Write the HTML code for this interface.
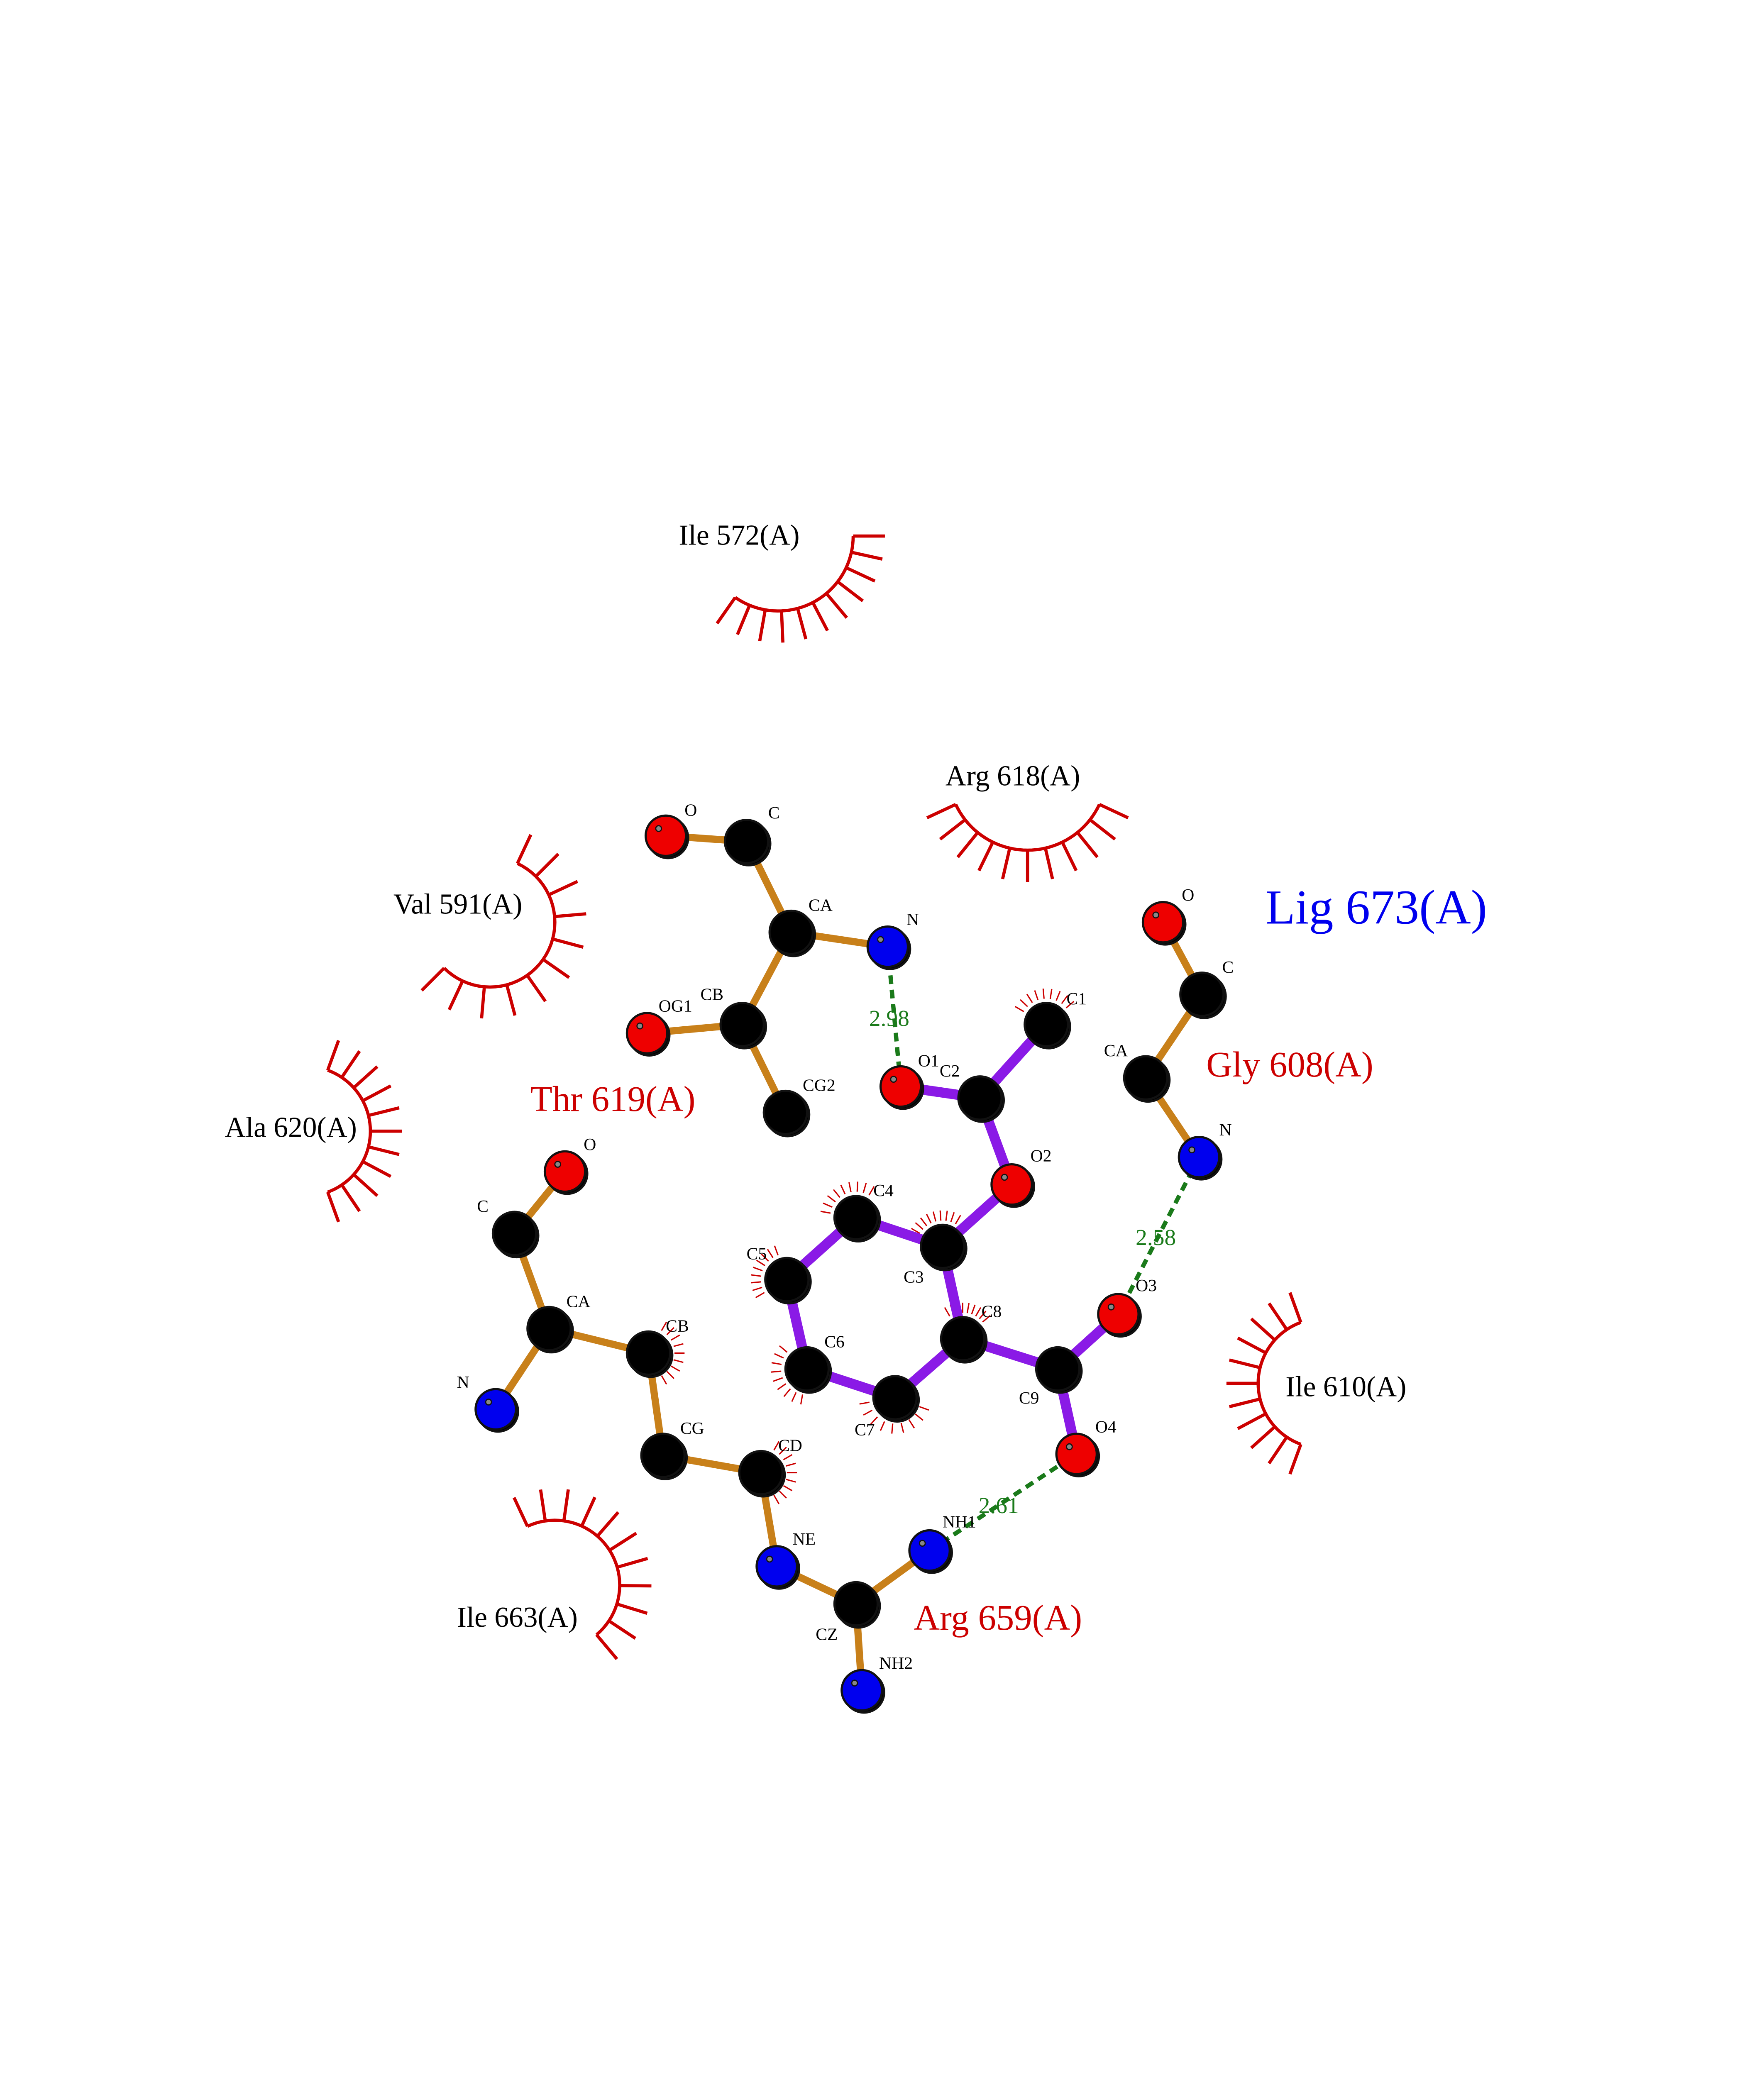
<!DOCTYPE html>
<html><head><meta charset="utf-8"><style>
html,body{margin:0;padding:0;background:#fff;width:4250px;height:5500px;overflow:hidden;}
svg{display:block;position:absolute;left:0;top:0;}
text{font-family:"Liberation Serif",serif;}
</style></head><body>
<svg id="s" width="4250" height="5500" viewBox="0 0 1224 1584" xmlns="http://www.w3.org/2000/svg">
<rect width="1224" height="1584" fill="#fff"/>
<g id="arcs" stroke="#cc0000" stroke-width="1.6" fill="none"></g>
<g stroke="#c8801a" stroke-width="5" stroke-linecap="round">
<line x1="462" y1="580" x2="518" y2="584"/><line x1="518" y1="584" x2="549" y2="647"/>
<line x1="549" y1="647" x2="616" y2="657"/><line x1="549" y1="647" x2="515" y2="711"/>
<line x1="515" y1="711" x2="449" y2="717"/><line x1="515" y1="711" x2="545" y2="772"/>
<line x1="807" y1="640" x2="834" y2="690"/><line x1="834" y1="690" x2="795" y2="748"/><line x1="795" y1="748" x2="832" y2="803"/>
<line x1="392" y1="813" x2="357" y2="856"/><line x1="357" y1="856" x2="381" y2="922"/>
<line x1="381" y1="922" x2="344" y2="978"/><line x1="381" y1="922" x2="450" y2="939"/>
<line x1="450" y1="939" x2="460" y2="1010"/><line x1="460" y1="1010" x2="528" y2="1022"/>
<line x1="528" y1="1022" x2="539" y2="1087"/><line x1="539" y1="1087" x2="594" y2="1113"/>
<line x1="594" y1="1113" x2="645" y2="1076"/><line x1="594" y1="1113" x2="598" y2="1173"/>
</g>
<g stroke="#8a1ae6" stroke-width="7" stroke-linecap="round">
<line x1="726" y1="711" x2="680" y2="762"/><line x1="680" y1="762" x2="625" y2="754"/>
<line x1="680" y1="762" x2="702" y2="822"/><line x1="702" y1="822" x2="654" y2="865"/>
<line x1="654" y1="865" x2="594" y2="845"/><line x1="594" y1="845" x2="546" y2="888"/>
<line x1="546" y1="888" x2="560" y2="950"/><line x1="560" y1="950" x2="621" y2="970"/>
<line x1="621" y1="970" x2="668" y2="929"/><line x1="668" y1="929" x2="654" y2="865"/>
<line x1="668" y1="929" x2="734" y2="950"/><line x1="734" y1="950" x2="776" y2="912"/>
<line x1="734" y1="950" x2="747" y2="1009"/>
</g>
<g stroke="#1a7a1a" stroke-width="3" stroke-dasharray="6,4">
<line x1="616" y1="657" x2="625" y2="754"/><line x1="832" y1="803" x2="776" y2="912"/><line x1="645" y1="1076" x2="747" y2="1009"/>
</g>
<g id="atoms" stroke="#111" stroke-width="1.5"></g>
<g font-size="12" fill="#000">
<text x="475" y="566">O</text><text x="533" y="568">C</text><text x="561" y="632">CA</text><text x="629" y="642">N</text>
<text x="486" y="694">CB</text><text x="457" y="702">OG1</text><text x="557" y="757">CG2</text>
<text x="820" y="625">O</text><text x="848" y="675">C</text><text x="766" y="733">CA</text><text x="846" y="788">N</text>
<text x="740" y="697">C1</text><text x="652" y="747">C2</text><text x="637" y="740">O1</text><text x="715" y="806">O2</text>
<text x="627" y="890">C3</text><text x="606" y="830">C4</text><text x="518" y="874">C5</text><text x="572" y="935">C6</text>
<text x="593" y="996">C7</text><text x="681" y="914">C8</text><text x="707" y="974">C9</text><text x="788" y="896">O3</text><text x="760" y="994">O4</text>
<text x="405" y="798">O</text><text x="331" y="841">C</text><text x="393" y="907">CA</text><text x="317" y="963">N</text>
<text x="462" y="924">CB</text><text x="472" y="995">CG</text><text x="540" y="1007">CD</text><text x="550" y="1072">NE</text>
<text x="566" y="1138">CZ</text><text x="654" y="1060">NH1</text><text x="610" y="1158">NH2</text>
</g>
<g font-size="16" fill="#1a7a1a"><text x="603" y="712">2.98</text><text x="788" y="864">2.58</text><text x="679" y="1050">2.61</text></g>
<g font-size="20" fill="#000">
<text x="471" y="378">Ile 572(A)</text><text x="656" y="545">Arg 618(A)</text><text x="273" y="634">Val 591(A)</text>
<text x="156" y="789">Ala 620(A)</text><text x="892" y="969">Ile 610(A)</text><text x="317" y="1129">Ile 663(A)</text>
</g>
<g font-size="25" fill="#cc0000"><text x="368" y="771">Thr 619(A)</text><text x="837" y="747">Gly 608(A)</text><text x="634" y="1131">Arg 659(A)</text></g>
<text x="878" y="641" font-size="34" fill="#0000ee">Lig 673(A)</text>
<text x="58" y="1470" font-size="14">.</text>
</svg>
<script>
var NS="http://www.w3.org/2000/svg",A=document.getElementById("atoms"),R=document.getElementById("arcs");
function el(p,t,a){var e=document.createElementNS(NS,t);for(var k in a)e.setAttribute(k,a[k]);p.appendChild(e);return e;}
var atoms=[[462,580,"r"],[518,584,"k"],[549,647,"k"],[616,657,"b"],[515,711,"k"],[449,717,"r"],[545,772,"k"],
[807,640,"r"],[834,690,"k"],[795,748,"k"],[832,803,"b"],
[726,711,"k"],[680,762,"k"],[625,754,"r"],[702,822,"r"],[654,865,"k"],[594,845,"k"],[546,888,"k"],[560,950,"k"],[621,970,"k"],[668,929,"k"],[734,950,"k"],[776,912,"r"],[747,1009,"r"],
[392,813,"r"],[357,856,"k"],[381,922,"k"],[344,978,"b"],[450,939,"k"],[460,1010,"k"],[528,1022,"k"],[539,1087,"b"],[594,1113,"k"],[645,1076,"b"],[598,1173,"b"]];
var col={r:"#ee0000",k:"#000",b:"#0000ee"};
atoms.forEach(function(a){var r=a[2]=="k"?15:14;el(A,"circle",{cx:a[0]+1.5,cy:a[1]+1.5,r:r,fill:"#000"});el(A,"circle",{cx:a[0],cy:a[1],r:r,fill:col[a[2]]});
if(a[2]!="k")el(A,"circle",{cx:a[0]-5,cy:a[1]-5,r:2,fill:"#888","stroke-width":0.8});});
function arc(cx,cy,r,a0,a1,n,len,w){var d="",i,t;for(i=0;i<=40;i++){t=(a0+(a1-a0)*i/40)*Math.PI/180;d+=(i?"L":"M")+(cx+r*Math.cos(t))+","+(cy+r*Math.sin(t));}
el(R,"path",{d:d,"stroke-width":w||2.2});for(i=0;i<n;i++){t=(a0+(a1-a0)*i/(n-1))*Math.PI/180;
el(R,"line",{x1:cx+r*Math.cos(t),y1:cy+r*Math.sin(t),x2:cx+(r+len)*Math.cos(t),y2:cy+(r+len)*Math.sin(t),"stroke-width":w||2.2});}}
arc(540,372,52,0,125,11,22);arc(713,535,55,25,155,11,22);arc(340,640,45,-65,135,11,22);
arc(212,785,45,-70,70,11,22);arc(918,960,45,110,250,11,22);arc(385,1100,45,-115,50,11,22);
[[726,711,-150,-40],[654,865,-150,-60],[594,845,-170,-60],[546,888,150,250],[560,950,100,220],[621,970,20,170],[668,929,-120,-40],[450,939,-60,60],[528,1022,-60,60]].forEach(function(t){
var i;for(i=0;i<9;i++){var a=(t[2]+(t[3]-t[2])*i/8)*Math.PI/180;el(R,"line",{x1:t[0]+18*Math.cos(a),y1:t[1]+18*Math.sin(a),x2:t[0]+25*Math.cos(a),y2:t[1]+25*Math.sin(a),"stroke-width":0.9});}});
</script>
</body></html>
